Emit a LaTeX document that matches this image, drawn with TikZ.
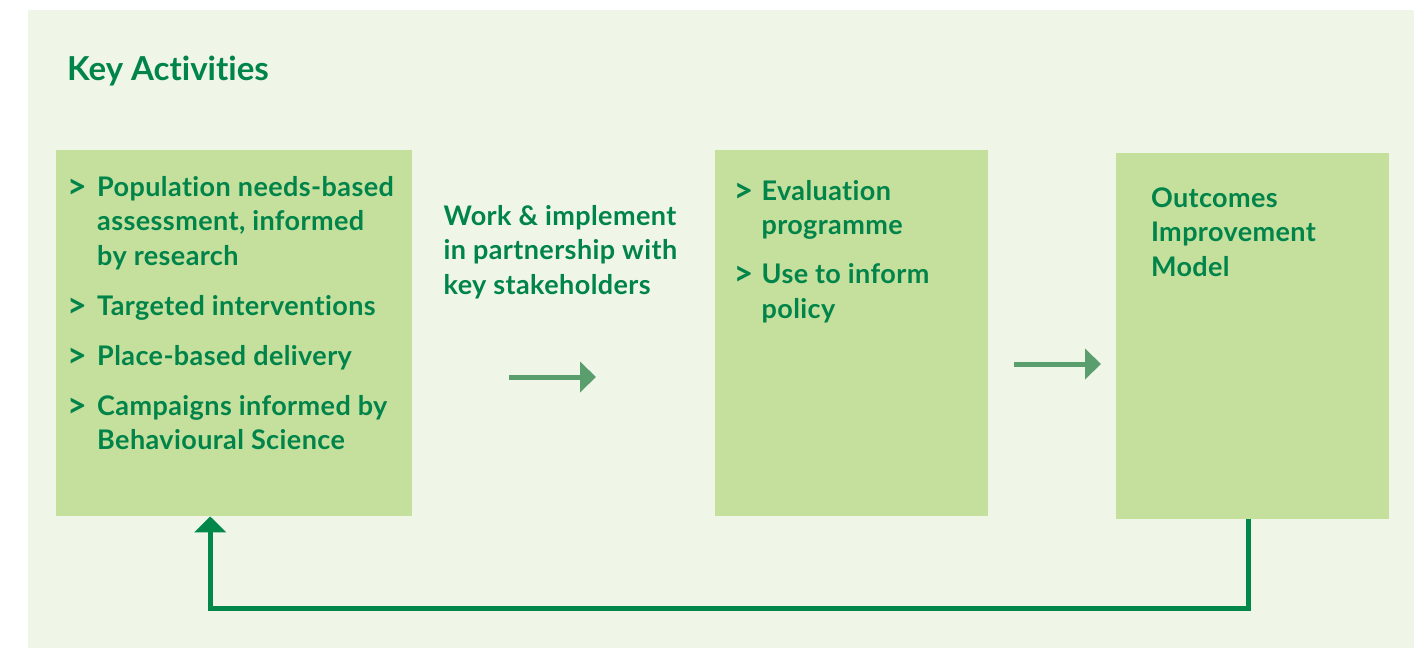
\documentclass[tikz,border=0pt]{standalone}
\usepackage{fontspec}
\setmainfont{Lato}[Ligatures=NoCommon]
\newfontfamily\bodyface{Lato}[Ligatures=NoCommon, LetterSpace=1.5]
\usetikzlibrary{positioning, arrows.meta}
\definecolor{panelgreen}{HTML}{EFF5E7}
\definecolor{boxgreen}{HTML}{C5DF9C}
\definecolor{keygreen}{HTML}{00844A}
\definecolor{midgreen}{HTML}{5A9E6E}
\definecolor{loopgreen}{HTML}{00884A}
\newcommand{\bodyfont}{\bodyface\fontsize{27}{34.5}\selectfont\bfseries}
\newcommand{\bul}{\raisebox{-2pt}{\fontsize{34}{34.5}\selectfont >}}
\tikzset{
    activity/.style={rectangle, fill=boxgreen, draw=none, anchor=north west, minimum height=366pt, inner sep=0pt},
    boxtext/.style={anchor=north west, inner sep=0pt, text=keygreen, font=\bodyfont, align=left},
    flow/.style={line width=5pt, draw=midgreen, -{Triangle[length=16pt, width=30pt]}},
    loopback/.style={line width=5pt, draw=loopgreen, -{Triangle[length=16pt, width=31pt]}}
}

\begin{document}
\begin{tikzpicture}[x=1pt, y=-1pt]

    \useasboundingbox (0,0) rectangle (1414,648);
    \fill [panelgreen] (28,10) rectangle (1414,648);

    % Boxes
    \node (assess) [activity, minimum width=356pt] at (56,150) {};
    \node (evaluate) [activity, minimum width=273pt, right=302pt of assess.east, anchor=west] {};
    \node (outcomes) [activity, minimum width=273pt, right=128pt of evaluate.east, anchor=west, yshift=-3pt] {};

    % Texts
    \node (title) [anchor=base west, inner sep=0pt, text=keygreen, font=\fontsize{33}{40}\selectfont\bfseries] at (67,80) {Key Activities};
    \node (assesslist) [boxtext, below right=22pt and 11pt of assess.north west] {%
        \begin{tabular}{@{}p{30pt}@{}l@{}}
        \bul & Population needs-based\\
             & assessment, informed\\
             & by research\\[15.5pt]
        \bul & Targeted interventions\\[15.5pt]
        \bul & Place-based delivery\\[15.5pt]
        \bul & Campaigns informed by\\
             & Behavioural Science
        \end{tabular}};
    \node (partner) [boxtext, below right=51pt and 31pt of assess.north east] {%
        \begin{tabular}{@{}l@{}}
        Work \& implement\\
        in partnership with\\
        key stakeholders
        \end{tabular}};
    \node (evallist) [boxtext, below right=26pt and 19pt of evaluate.north west] {%
        \begin{tabular}{@{}p{28pt}@{}l@{}}
        \bul & Evaluation\\
             & programme\\[14.5pt]
        \bul & Use to inform\\
             & policy
        \end{tabular}};
    \node (model) [boxtext, below right=30pt and 35pt of outcomes.north west] {%
        \begin{tabular}{@{}l@{}}
        Outcomes\\
        Improvement\\
        Model
        \end{tabular}};

    % Arrows
    \coordinate (flowA) at (509,377);
    \coordinate (flowB) at (1014,364);
    \draw [flow] (flowA) -- ([xshift=87pt]flowA);
    \draw [flow] (flowB) -- ([xshift=87pt]flowB);
    \draw [loopback] ([xshift=-4.5pt]outcomes.south) -- ++(0,89) -| ([xshift=-24pt]assess.south);

\end{tikzpicture}
\end{document}
